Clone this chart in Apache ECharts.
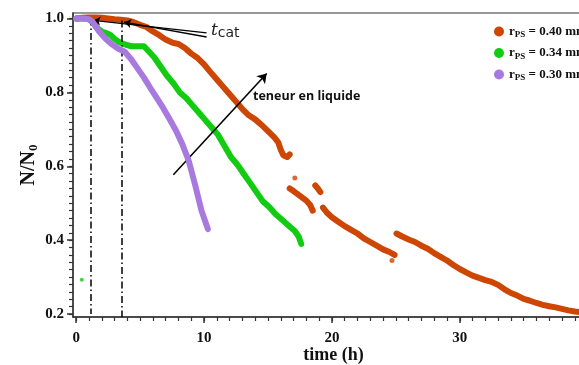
<!DOCTYPE html>
<html><head><meta charset="utf-8">
<script src="https://cdn.jsdelivr.net/npm/echarts@6/dist/echarts.min.js"></script>
<style>html,body{margin:0;padding:0;background:#fff}#c{width:579px;height:365px}</style>
</head><body><div id="c"></div>
<script>
// ---- data (time h, N/N0) ----
const orange040 = [
[0,1.0],[0.5,1.002],[1,1.003],[1.5,1.003],[2,1.002],[2.5,1.0],[3,0.998],[3.5,0.997],[4,0.995],[4.5,0.99],[5,0.983],[5.5,0.977],[6,0.965],[6.5,0.955],[7,0.943],[7.5,0.935],[8,0.931],[8.5,0.92],[9,0.905],[9.5,0.893],[10,0.876],[10.5,0.855],[11,0.835],[11.5,0.815],[12,0.795],[12.5,0.775],[13,0.755],[13.5,0.738],[14,0.727],[14.5,0.712],[15,0.695],[15.5,0.678],[15.8,0.665],[16.0,0.645],[16.2,0.63],[16.5,0.625],[16.7,0.632],
[16.75,'-'],
[16.7,0.54],[17.0,0.533],[17.5,0.52],[18.0,0.507],[18.3,0.495],[18.5,0.48],
[18.6,'-'],
[18.7,0.548],[18.9,0.54],[19.1,0.53],
[19.2,'-'],
[19.3,0.488],[19.6,0.475],[20,0.462],[20.5,0.45],[21,0.438],[21.5,0.428],[22,0.418],[22.5,0.405],[23,0.395],[23.5,0.385],[24,0.375],[24.5,0.368],[24.9,0.36],
[25.0,'-'],
[25.05,0.418],[25.5,0.41],[26,0.402],[26.5,0.395],[27,0.385],[27.5,0.377],[28,0.365],[28.5,0.355],[29,0.345],[29.5,0.333],[30,0.322],[30.5,0.313],[31,0.304],[31.5,0.298],[32,0.292],[32.5,0.287],[33,0.279],[33.5,0.267],[34,0.257],[34.5,0.25],[35,0.241],[35.5,0.236],[36,0.23],[36.5,0.225],[37,0.221],[37.5,0.218],[38,0.214],[38.5,0.21],[39,0.207],[39.5,0.205]
];
const orangeStray = [[17.1,0.568],[24.7,0.345]];
const green034 = [
[0,1.0],[0.5,1.0],[1.0,0.998],[1.3,0.99],[1.6,0.975],[2.0,0.965],[2.4,0.96],[2.7,0.955],[3.0,0.945],[3.4,0.935],[3.8,0.93],[4.3,0.925],[4.8,0.925],[5.3,0.925],[5.7,0.91],[6.1,0.895],[6.6,0.87],[7.1,0.845],[7.6,0.825],[8.1,0.8],[8.6,0.785],[9.1,0.765],[9.6,0.745],[10.1,0.725],[10.6,0.705],[11.1,0.685],[11.6,0.655],[12.1,0.625],[12.6,0.605],[13.1,0.58],[13.6,0.555],[14.1,0.53],[14.6,0.505],[15.1,0.49],[15.6,0.47],[16.1,0.455],[16.6,0.44],[17.1,0.425],[17.4,0.41],[17.6,0.39]
];
const greenStray = [[0.44,0.293]];
const purple030 = [
[0,1.0],[0.5,1.0],[1.0,0.998],[1.3,0.99],[1.8,0.965],[2.3,0.945],[2.8,0.93],[3.3,0.918],[3.8,0.91],[4.3,0.89],[4.8,0.865],[5.3,0.84],[5.8,0.812],[6.3,0.785],[6.8,0.758],[7.3,0.728],[7.8,0.697],[8.3,0.66],[8.8,0.615],[9.3,0.55],[9.8,0.48],[10.3,0.43]
];
const tcatLines = [1.17, 3.6];
const xLabels = [0,10,20,30,40];
const yLabels = [0.2,0.4,0.6,0.8,1.0];
const xMinor = [0,1,2,3,4,5,6,7,8,9,10,11,12,13,14,15,16,17,18,19,20,21,22,23,24,25,26,27,28,29,30,31,32,33,34,35,36,37,38,39,40];
const yMinor = [0.2,0.22,0.24,0.26,0.28,0.3,0.32,0.34,0.36,0.38,0.4,0.42,0.44,0.46,0.48,0.5,0.52,0.54,0.56,0.58,0.6,0.62,0.64,0.66,0.68,0.7,0.72,0.74,0.76,0.78,0.8,0.82,0.84,0.86,0.88,0.9,0.92,0.94,0.96,0.98,1.0];
const legendNames = {r040:'0.40', r034:'0.34', r030:'0.30'};

const C_OR = '#cd4603', C_GR = '#12cc12', C_PU = '#a87ae0';
const SERIF = '"Liberation Serif","Times New Roman",serif';
const XMIN=-0.25, XMAX=40.5, YMIN=0.192, YMAX=1.015;

const chart = echarts.init(document.getElementById('c'), null, {renderer:'canvas'});
const axisLbl = {fontFamily:SERIF, fontWeight:'bold', fontSize:15, color:'#111'};
chart.setOption({
  animation:false,
  grid:{left:73, top:13, width:521, height:304, outerBoundsMode:'none', containLabel:false,
        show:true, borderColor:'#777', borderWidth:1.5},
  legend:{
    orient:'vertical', left:489, top:20, itemWidth:10, itemHeight:10, itemGap:7, icon:'circle',
    data:['r040','r034','r030'],
    formatter: n => '{r|r}{s|PS}{r| = ' + legendNames[n] + ' mm}',
    textStyle:{rich:{
      r:{fontFamily:SERIF, fontWeight:'bold', fontSize:13, color:'#111'},
      s:{fontFamily:SERIF, fontWeight:'bold', fontSize:9, color:'#111', padding:[7,0,0,0]}
    }}
  },
  xAxis:[{
    type:'value', min:XMIN, max:XMAX,
    name:'time (h)', nameLocation:'middle', nameGap:29, nameMoveOverlap:false,
    nameTextStyle:{fontFamily:SERIF, fontWeight:'bold', fontSize:18, color:'#111'},
    axisLine:{onZero:false, lineStyle:{color:'#333', width:1.5}},
    axisTick:{customValues:xLabels, inside:false, length:6, lineStyle:{color:'#333', width:1.5}},
    axisLabel:{customValues:xLabels, margin:14, ...axisLbl},
    splitLine:{show:false}
  },{
    type:'value', min:XMIN, max:XMAX, gridIndex:0, position:'bottom', offset:0,
    axisLine:{show:false, onZero:false},
    axisTick:{customValues:xMinor, inside:false, length:4, lineStyle:{color:'#333', width:1.2}},
    axisLabel:{show:false}, splitLine:{show:false}
  }],
  yAxis:[{
    type:'value', min:YMIN, max:YMAX,
    name:'{a|N/N}{b|0}', nameLocation:'middle', nameGap:33, nameMoveOverlap:false,
    nameTextStyle:{rich:{
      a:{fontFamily:SERIF, fontWeight:'bold', fontSize:20, color:'#111'},
      b:{fontFamily:SERIF, fontWeight:'bold', fontSize:13, color:'#111', padding:[9,0,0,0]}
    }},
    axisLine:{onZero:false, lineStyle:{color:'#333', width:1.5}},
    axisTick:{customValues:yLabels, inside:false, length:6, lineStyle:{color:'#333', width:1.5}},
    axisLabel:{customValues:yLabels, margin:9, formatter:v=>v.toFixed(1), ...axisLbl},
    splitLine:{show:false}
  },{
    type:'value', min:YMIN, max:YMAX, gridIndex:0, position:'left', offset:0,
    axisLine:{show:false, onZero:false},
    axisTick:{customValues:yMinor, inside:false, length:4, lineStyle:{color:'#333', width:1.2}},
    axisLabel:{show:false}, splitLine:{show:false}
  }],
  series:[
    {name:'r040', type:'line', data:orange040, symbol:'none', connectNulls:false,
     lineStyle:{color:C_OR, width:6, cap:'round', join:'round'}, itemStyle:{color:C_OR}, z:3},
    {name:'r040', type:'scatter', data:orangeStray, symbolSize:5, itemStyle:{color:C_OR}, z:3},
    {name:'r034', type:'line', data:green034, symbol:'none',
     lineStyle:{color:C_GR, width:6, cap:'round', join:'round'}, itemStyle:{color:C_GR}, z:4},
    {name:'r034', type:'scatter', data:greenStray, symbolSize:4, itemStyle:{color:C_GR}, z:4},
    {name:'r030', type:'line', data:purple030, symbol:'none',
     lineStyle:{color:C_PU, width:6, cap:'round', join:'round'}, itemStyle:{color:C_PU}, z:5},
    {name:'annot', type:'line', data:[], z:6,
     markLine:{silent:true, animation:false, label:{show:false},
       data:[
         [{coord:[tcatLines[0],1.0], symbol:'none', lineStyle:{color:'#000', width:1.5, type:[7,3,1.5,3]}},{coord:[tcatLines[0],0.2], symbol:'none'}],
         [{coord:[tcatLines[1],0.995], symbol:'none', lineStyle:{color:'#000', width:1.5, type:[7,3,1.5,3]}},{coord:[tcatLines[1],0.192], symbol:'none'}],
         [{coord:[10.2,0.961], symbol:'none', lineStyle:{color:'#000', width:1.3, type:'solid'}},{coord:[1.35,0.995], symbol:'arrow', symbolSize:7}],
         [{coord:[10.2,0.950], symbol:'none', lineStyle:{color:'#000', width:1.3, type:'solid'}},{coord:[3.75,0.99], symbol:'arrow', symbolSize:7}],
         [{coord:[7.6,0.577], symbol:'none', lineStyle:{color:'#000', width:1.6, type:'solid'}},{coord:[14.9,0.851], symbol:'arrow', symbolSize:9}]
       ]}
    }
  ],
  graphic:[
    {type:'text', left:211, top:22, style:{text:'{i|t}{c|cat}', rich:{
      i:{fontFamily:'"DejaVu Serif",serif', fontStyle:'italic', fontSize:17, fill:'#222'},
      c:{fontFamily:'"DejaVu Sans",sans-serif', fontSize:14, fill:'#222', padding:[6,0,0,0]}}}},
    {type:'text', left:253, top:90, style:{text:'teneur en liquide', font:'bold 12.5px "Open Sans", sans-serif', fill:'#111'}}
  ]
});
</script></body></html>
